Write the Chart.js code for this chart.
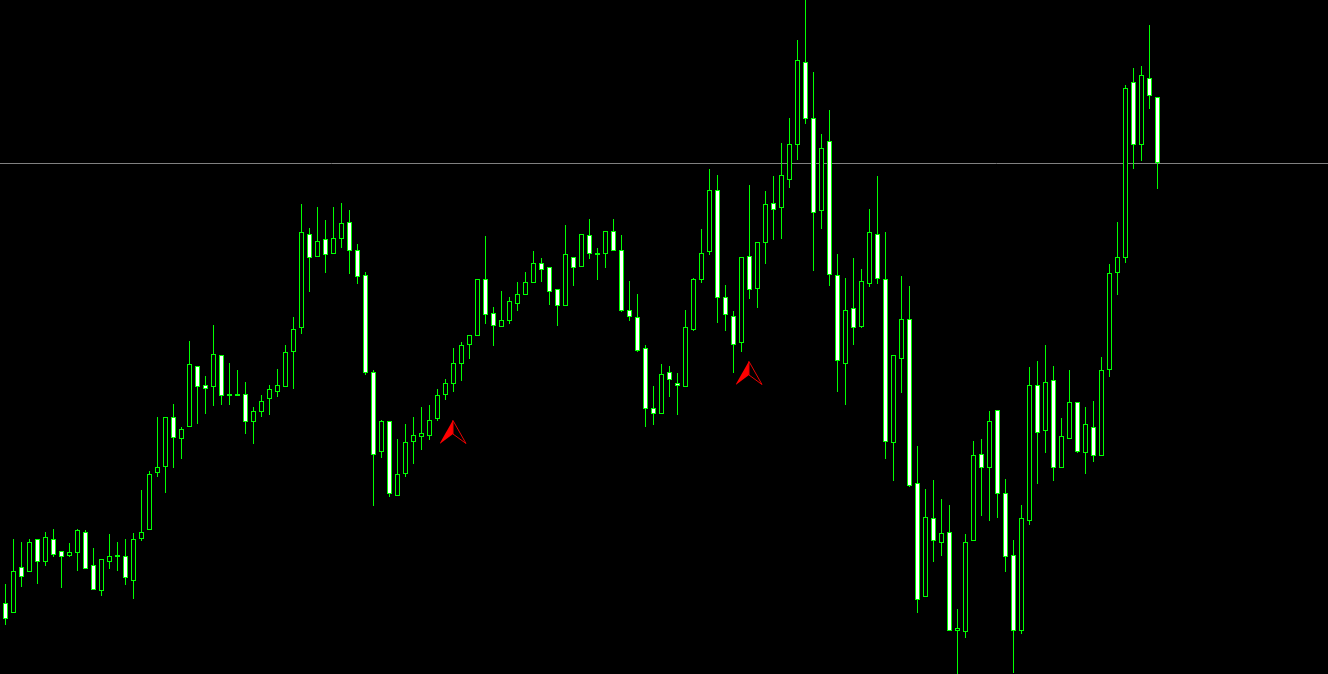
<!DOCTYPE html>
<html>
<head>
<meta charset="utf-8">
<style>
html,body{margin:0;padding:0;background:#000;overflow:hidden}
canvas{display:block}
</style>
<script src="https://cdn.jsdelivr.net/npm/chart.js@4"></script>
</head>
<body>
<canvas id="c" width="1328" height="674"></canvas>
<script>
// The price axis runs downward (0 = top of the window).
const highs = [584,539,542,539,539,532,529,551,543,529,530,548,559,534,542,539,533,490,471,417,417,404,427,341,366,376,325,355,363,370,382,407,395,385,369,345,317,204,228,207,220,207,203,210,244,272,370,420,421,439,424,417,407,405,389,379,348,342,335,279,236,307,291,297,282,272,251,258,267,289,225,257,234,219,248,231,219,235,281,294,345,386,364,366,373,310,278,229,169,175,285,311,257,185,242,191,176,143,118,40,0,72,134,110,254,278,258,269,209,176,232,355,276,286,446,489,480,499,505,609,534,441,439,411,410,479,540,505,367,361,345,366,418,370,402,407,401,357,264,222,85,68,66,25,97];
const lows = [625,613,587,572,584,566,557,588,557,571,569,590,596,569,571,585,599,541,530,477,493,468,459,427,424,414,406,405,405,396,434,444,417,415,397,387,389,334,292,257,273,254,248,274,284,375,506,458,497,496,477,464,450,440,421,400,392,381,359,336,324,346,327,324,311,295,283,282,305,326,306,286,267,259,280,268,251,312,321,352,427,425,414,397,415,387,331,283,255,323,331,373,352,299,308,264,240,239,188,160,124,271,229,286,392,405,345,328,287,284,459,481,393,487,613,597,562,556,631,674,638,541,516,521,518,572,673,634,525,484,453,481,468,439,453,474,462,456,377,295,263,169,161,109,189];
const opens = [603,613,567,572,539,562,539,551,556,553,532,565,591,562,557,556,581,539,530,473,467,417,439,427,366,385,387,355,396,396,394,422,412,399,392,387,352,328,234,257,239,254,239,222,250,275,372,452,421,496,474,442,437,436,419,395,384,364,345,336,279,313,327,321,304,295,283,263,267,289,306,257,267,235,255,254,231,250,310,317,348,408,414,372,383,387,330,280,252,190,297,316,343,256,289,243,203,208,180,145,62,118,211,141,275,364,308,327,284,234,279,443,359,319,483,597,518,543,532,631,632,541,454,468,410,493,555,631,521,385,431,380,468,439,402,453,427,456,370,273,258,82,145,78,97];
const closes = [619,571,577,542,562,537,555,557,552,530,569,590,559,556,555,578,539,532,474,467,417,438,429,364,387,389,354,396,394,394,422,411,401,389,385,352,329,232,258,241,255,238,223,251,277,373,455,421,494,474,442,435,433,420,395,383,363,345,335,279,315,326,320,301,294,282,263,270,292,306,254,268,234,254,253,231,251,311,317,351,409,414,374,380,386,327,279,253,190,298,315,345,257,290,242,204,210,175,144,60,119,213,148,275,361,310,328,281,232,279,442,355,319,486,600,517,541,533,631,628,542,455,468,421,494,557,631,518,385,433,382,468,436,402,452,424,456,370,273,257,88,145,75,96,163];
const referenceLevel = 163.5;
const markerIndex = [56,93];
const markerLevel = [432,373];

const candleCount = 166;

function arrow(){
  const a=document.createElement('canvas');a.width=27;a.height=24;
  const g=a.getContext('2d');
  g.fillStyle='#ff0000';g.strokeStyle='#e80000';g.lineWidth=1;
  g.beginPath();g.moveTo(13,0);g.lineTo(-0.5,24);g.lineTo(13,14);g.closePath();g.fill();
  g.beginPath();g.moveTo(13,0.5);g.lineTo(26,23.5);g.lineTo(13,14);g.closePath();g.stroke();
  return a;
}
const idx = highs.map((_,i)=>i);
const isDown = idx.map(i=>closes[i]>opens[i]);
const GREEN='#00ff00';
new Chart(document.getElementById('c'),{
  data:{datasets:[
    {type:'line',order:4,data:[{x:-1,y:referenceLevel},{x:candleCount,y:referenceLevel}],
      borderColor:'#808080',borderWidth:1,pointRadius:0,tension:0},
    {type:'bar',order:3,grouped:false,barThickness:1,inflateAmount:0,borderWidth:0,backgroundColor:GREEN,
      data:idx.map(i=>({x:i,y:[highs[i],lows[i]]}))},
    {type:'bar',order:2,grouped:false,barThickness:5,inflateAmount:0,borderWidth:1,borderSkipped:false,
      borderColor:GREEN,backgroundColor:idx.map(i=>isDown[i]?'#ffffff':'#000000'),
      data:idx.map(i=>({x:i,y:[opens[i],closes[i]]}))},
    {type:'scatter',order:1,pointStyle:arrow(),pointRadius:12,
      data:markerIndex.map((m,k)=>({x:m,y:markerLevel[k]}))}
  ]},
  options:{
    responsive:false,animation:false,devicePixelRatio:1,
    layout:{padding:0,autoPadding:false},
    plugins:{legend:{display:false},tooltip:{enabled:false},title:{display:false}},
    events:[],
    scales:{
      x:{type:'linear',display:false,min:-0.6875,max:candleCount-0.6875,offset:false,grid:{display:false}},
      y:{type:'linear',display:false,reverse:true,min:0,max:674,grid:{display:false}}
    }
  }
});
</script>
</body>
</html>
